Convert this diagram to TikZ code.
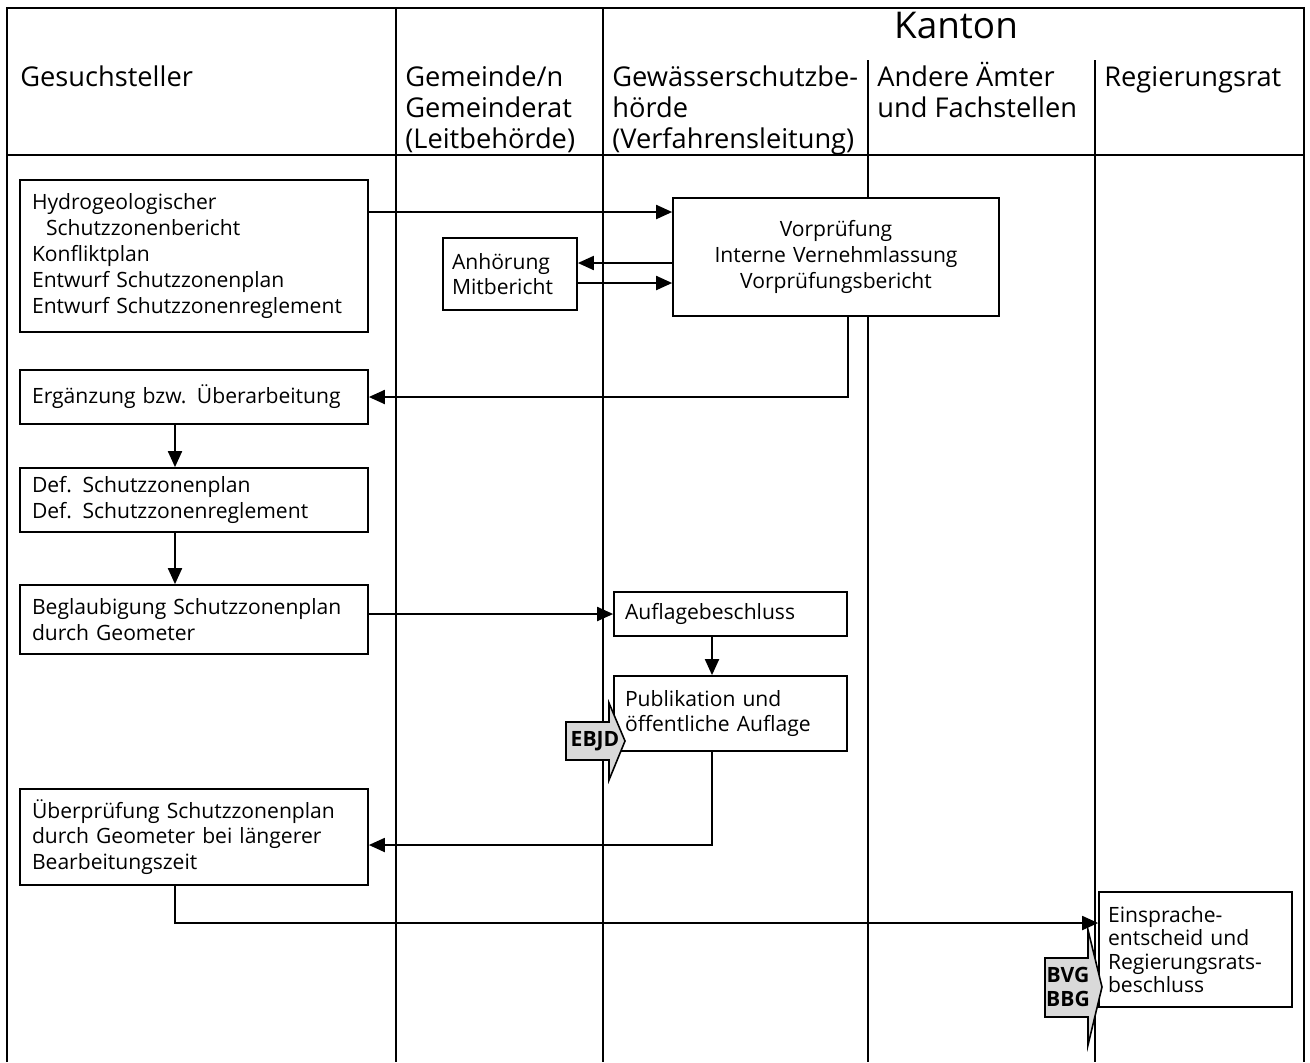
\documentclass[tikz,border=0pt]{standalone}
\usepackage{fontspec}
\setmainfont{Open Sans}
\usetikzlibrary{arrows.meta, positioning}

\begin{document}
\begin{tikzpicture}[
    x=0.02cm, y=-0.02cm,
    lane/.style={line width=1.2pt},
    box/.style={draw, line width=1pt, fill=white, align=left, inner xsep=0.24cm, inner ysep=0pt, font=\fontsize{12}{14.7}\selectfont},
    head/.style={anchor=base west, align=left, inner sep=0pt, font=\fontsize{15.5}{17.6}\selectfont},
    arr/.style={-{Triangle[length=0.32cm,width=0.28cm]}, line width=1.1pt},
    tag/.style={draw, line width=0.9pt, fill=black!15},
    tagtext/.style={inner sep=0pt, align=center, font=\fontsize{12}{13.8}\selectfont\bfseries}
]
\useasboundingbox (0,0) rectangle (1310,1062);

% Lanes
\draw[lane] (7,1062) -- (7,8) -- (1304,8) -- (1304,1062);
\draw[lane] (7,155) -- (1304,155);
\foreach \x in {396,603} \draw[lane] (\x,8) -- (\x,1062);
\foreach \x in {868,1095} \draw[lane] (\x,60) -- (\x,1062);

% Header (base = last line)
\node[anchor=base, inner sep=0pt, font=\fontsize{21}{24}\selectfont] (kanton) at (956,38) {Kanton};
\node[head] (gesuch) at (20,86) {Gesuchsteller};
\node[head] (gemeinde) at (405,148) {Gemeinde/n\\Gemeinderat\\(Leitbehörde)};
\node[head] (gsb) at (612,148) {Gewässerschutzbe-\\hörde\\(Verfahrensleitung)};
\node[head] (aemter) at (877,117) {Andere Ämter\\und Fachstellen};
\node[head] (rr) at (1104,86) {Regierungsrat};

% Boxes
\node[box, text width=6.48cm, minimum height=3.04cm] (hydro) at (194,256)
    {Hydrogeologischer\\\hspace*{0.28cm}Schutzzonenbericht\\Konfliktplan\\Entwurf Schutzzonenplan\\Entwurf Schutzzonenreglement};
\node[box, inner xsep=0.18cm, text width=2.32cm, minimum height=1.44cm] (anh) at (510,274) {Anhörung\\Mitbericht};
\node[box, align=center, text width=6.04cm, minimum height=2.36cm] (vor) at (836,257)
    {Vorprüfung\\Interne Vernehmlassung\\Vorprüfungsbericht};
\node[box, text width=6.48cm, minimum height=1.08cm] (erg) at (194,397) {Ergänzung bzw. Überarbeitung};
\node[box, text width=6.48cm, minimum height=1.28cm] (def) at (194,500) {Def. Schutzzonenplan\\Def. Schutzzonenreglement};
\node[box, text width=6.48cm, minimum height=1.38cm] (begl) at (194,619.5) {Beglaubigung Schutzzonenplan\\durch Geometer};
\node[box, inner xsep=0.22cm, text width=4.22cm, minimum height=0.88cm] (aufl) at (730.5,614) {Auflagebeschluss};
\node[box, inner xsep=0.22cm, text width=4.22cm, minimum height=1.5cm] (publ) at (730.5,713.5) {Publikation und\\öffentliche Auflage};
\node[box, text width=6.48cm, minimum height=1.92cm] (uber) at (194,837)
    {Überprüfung Schutzzonenplan\\durch Geometer bei längerer\\Bearbeitungszeit};
\node[box, inner xsep=0.18cm, text width=3.5cm, minimum height=2.3cm, font=\fontsize{12}{13.2}\selectfont] (eins) at (1195.5,949.5)
    {Einsprache-\\entscheid und\\Regierungsrats-\\beschluss};

% Connectors
\draw[arr] (hydro.east |- 0,212) -- (vor.west |- 0,212);
\draw[arr] (vor.west |- 0,263) -- (anh.east |- 0,263);
\draw[arr] (anh.east |- 0,283) -- (vor.west |- 0,283);
\draw[arr] (vor.south -| 848,0) |- (erg.east);
\draw[arr] (erg.south -| 175,0) -- (def.north -| 175,0);
\draw[arr] (def.south -| 175,0) -- (begl.north -| 175,0);
\draw[arr] (begl.east |- aufl.west) -- (aufl.west);
\draw[arr] (aufl.south -| 712,0) -- (publ.north -| 712,0);
\draw[arr] (publ.south -| 712,0) |- ([yshift=-0.16cm]uber.east);
\draw[arr] (uber.south -| 175,0) |- (eins.west |- 0,923);

% Legal tags
\filldraw[tag] (566,722) -- (609,722) -- (609,703) -- (625,741) -- (609,780) -- (609,760) -- (566,760) -- cycle;
\node[tagtext] (ebjd) at (595,741) {EBJD};
\filldraw[tag] (1045,958) -- (1088,958) -- (1088,930) -- (1102,987) -- (1088,1045) -- (1088,1017) -- (1045,1017) -- cycle;
\node[tagtext] (bvg) at (1068,987) {BVG\\BBG};

\end{tikzpicture}
\end{document}
